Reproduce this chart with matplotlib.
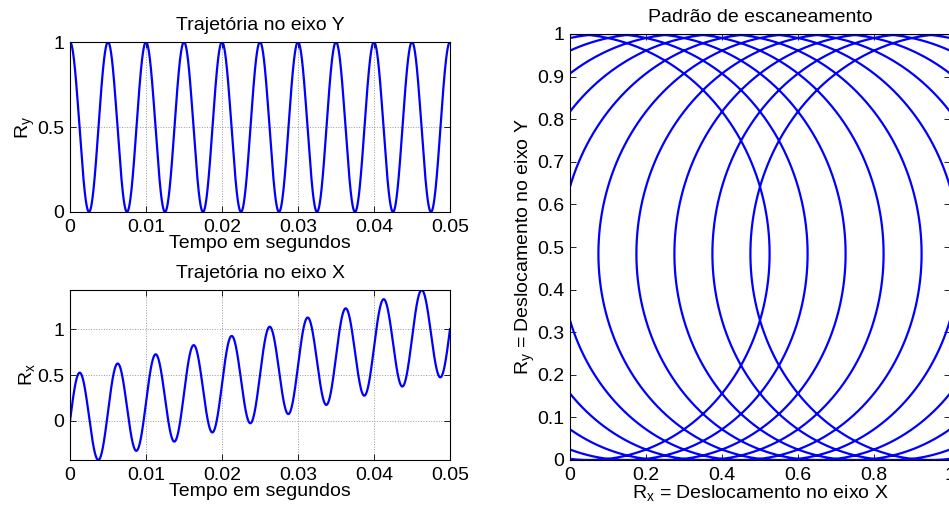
import numpy as np
import matplotlib
matplotlib.use('Agg')
import matplotlib.pyplot as plt
from matplotlib.ticker import FormatStrFormatter

plt.rcParams['font.family'] = ['Liberation Sans', 'DejaVu Sans']
plt.rcParams['font.size'] = 14
plt.rcParams['mathtext.fontset'] = 'custom'
plt.rcParams['mathtext.rm'] = 'Liberation Sans'
plt.rcParams['mathtext.it'] = 'Liberation Sans'

# scan parameters
freq_hz = 200.0      # 10 oscillations in 0.05 s
amplitude = 0.5      # radius of each loop
drift_rate = 20.0    # centre of Rx moves 0 -> 1 in 0.05 s
t_end = 0.05

t_ticks = [0, 0.01, 0.02, 0.03, 0.04, 0.05]
ry_ticks = [0, 0.5, 1]
rx_ticks = [0, 0.5, 1]
scan_xticks = [0, 0.2, 0.4, 0.6, 0.8, 1]
scan_yticks = [0, 0.1, 0.2, 0.3, 0.4, 0.5, 0.6, 0.7, 0.8, 0.9, 1]

t = np.linspace(0, t_end, 6001)
ry = 0.5 + amplitude * np.cos(2 * np.pi * freq_hz * t)
rx = drift_rate * t + amplitude * np.sin(2 * np.pi * freq_hz * t)

fig = plt.figure(figsize=(9.49, 5.09), dpi=100)
W, H = 949.0, 509.0

def box(l, top, r, bot):
    return [l / W, 1 - bot / H, (r - l) / W, (bot - top) / H]

def style(ax, grid=True):
    ax.tick_params(direction='in', length=4, width=0.6, top=True, right=True,
                   pad=4, labelsize=14)
    ax.tick_params(axis='x', pad=5)
    for s in ax.spines.values():
        s.set_linewidth(0.8)
    if grid:
        ax.grid(True, linestyle=':', color='0.6', linewidth=0.7)
    ax.xaxis.set_major_formatter(FormatStrFormatter('%g'))
    ax.yaxis.set_major_formatter(FormatStrFormatter('%g'))

ax1 = fig.add_axes(box(70, 42, 450, 212))
ax1.plot(t, ry, color='#0000ff', lw=1.6)
ax1.set_xlim(0, t_end)
ax1.set_ylim(0, 1)
ax1.set_xticks(t_ticks)
ax1.set_yticks(ry_ticks)
style(ax1)
ax1.set_title('Trajetória no eixo Y', fontsize=14, pad=9)
ax1.set_xlabel('Tempo em segundos', labelpad=-1)
ax1.set_ylabel(r'R$_\mathregular{y}$', labelpad=0)

ax2 = fig.add_axes(box(70, 290, 450, 460))
ax2.plot(t, rx, color='#0000ff', lw=1.6)
ax2.set_xlim(0, t_end)
ax2.set_ylim(rx.min(), rx.max())
ax2.set_xticks(t_ticks)
ax2.set_yticks(rx_ticks)
style(ax2)
ax2.set_title('Trajetória no eixo X', fontsize=14, pad=9)
ax2.set_xlabel('Tempo em segundos', labelpad=-1)
ax2.set_ylabel(r'R$_\mathregular{x}$', labelpad=0)

ax3 = fig.add_axes(box(570, 34, 950, 460))
ax3.plot(rx, ry, color='#0000ff', lw=1.6)
ax3.set_xlim(0, 1)
ax3.set_ylim(0, 1)
ax3.set_xticks(scan_xticks)
ax3.set_yticks(scan_yticks)
style(ax3, grid=False)
ax3.set_title('Padrão de escaneamento', fontsize=14, pad=9)
ax3.set_xlabel(r'R$_\mathregular{x}$ = Deslocamento no eixo X', labelpad=-1)
ax3.set_ylabel(r'R$_\mathregular{y}$ = Deslocamento no eixo Y', labelpad=0)

fig.savefig('out.png', dpi=100)
